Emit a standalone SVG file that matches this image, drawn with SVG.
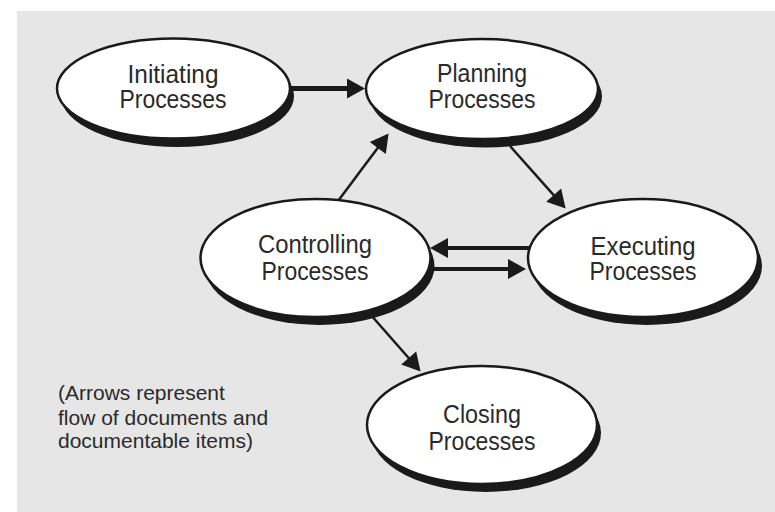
<svg xmlns="http://www.w3.org/2000/svg" width="775" height="512" viewBox="0 0 775 512">
<style>
.shadow{fill:#1a1a1a}
.body{fill:#ffffff;stroke:#1a1a1a;stroke-width:2.5}
.lbl{font-family:"Liberation Sans",Arial,sans-serif;font-size:26px;fill:#2a2a2a;text-anchor:middle}
.note{font-family:"Liberation Sans",Arial,sans-serif;font-size:21px;fill:#2a2a2a}
.c{stroke:#1a1a1a;fill:none;marker-end:url(#ah)}
</style>
<defs>
<marker id="ah" markerUnits="userSpaceOnUse" markerWidth="20" markerHeight="20" refX="2" refY="10" orient="auto" overflow="visible">
<path d="M0,0 L18,10 L0,20 z" fill="#1a1a1a"/>
</marker>
</defs>
<rect x="17" y="11" width="758" height="501" fill="#e6e6e6"/>
<g id="connectors">
<line class="c" x1="280" y1="88.5" x2="349" y2="88.5" stroke-width="5"/>
<line class="c" x1="335" y1="205" x2="379" y2="146.3" stroke-width="2.5"/>
<line class="c" x1="510" y1="146" x2="555" y2="196.6" stroke-width="2.5"/>
<line class="c" x1="540" y1="248" x2="446" y2="248" stroke-width="4"/>
<line class="c" x1="425" y1="269" x2="510" y2="269" stroke-width="4"/>
<line class="c" x1="370" y1="314" x2="410" y2="359.5" stroke-width="2.5"/>
</g>
<g id="initiating">
<ellipse class="shadow" cx="177.5" cy="96" rx="116.5" ry="51"/>
<ellipse class="body" cx="173.5" cy="88.5" rx="116.5" ry="50"/>
<text class="lbl" x="173" y="83" textLength="91" lengthAdjust="spacingAndGlyphs">Initiating</text>
<text class="lbl" x="173" y="108" textLength="107" lengthAdjust="spacingAndGlyphs">Processes</text>
</g>
<g id="planning">
<ellipse class="shadow" cx="486" cy="96.5" rx="116" ry="51"/>
<ellipse class="body" cx="482" cy="89" rx="116" ry="50"/>
<text class="lbl" x="482" y="82" textLength="90" lengthAdjust="spacingAndGlyphs">Planning</text>
<text class="lbl" x="482" y="108" textLength="107" lengthAdjust="spacingAndGlyphs">Processes</text>
</g>
<g id="controlling">
<ellipse class="shadow" cx="319.5" cy="266" rx="115" ry="59"/>
<ellipse class="body" cx="315.5" cy="258" rx="115" ry="59"/>
<text class="lbl" x="315" y="253" textLength="114" lengthAdjust="spacingAndGlyphs">Controlling</text>
<text class="lbl" x="315" y="280" textLength="107" lengthAdjust="spacingAndGlyphs">Processes</text>
</g>
<g id="executing">
<ellipse class="shadow" cx="647" cy="266" rx="115" ry="59"/>
<ellipse class="body" cx="643" cy="258" rx="115" ry="59"/>
<text class="lbl" x="643" y="255" textLength="105" lengthAdjust="spacingAndGlyphs">Executing</text>
<text class="lbl" x="643" y="280" textLength="107" lengthAdjust="spacingAndGlyphs">Processes</text>
</g>
<g id="closing">
<ellipse class="shadow" cx="486" cy="433" rx="115" ry="59"/>
<ellipse class="body" cx="482" cy="425" rx="115" ry="59"/>
<text class="lbl" x="482" y="423" textLength="78" lengthAdjust="spacingAndGlyphs">Closing</text>
<text class="lbl" x="482" y="450" textLength="107" lengthAdjust="spacingAndGlyphs">Processes</text>
</g>
<g id="note">
<text class="note" x="58" y="400">(Arrows represent</text>
<text class="note" x="58" y="425">flow of documents and</text>
<text class="note" x="58" y="448">documentable items)</text>
</g>
</svg>
